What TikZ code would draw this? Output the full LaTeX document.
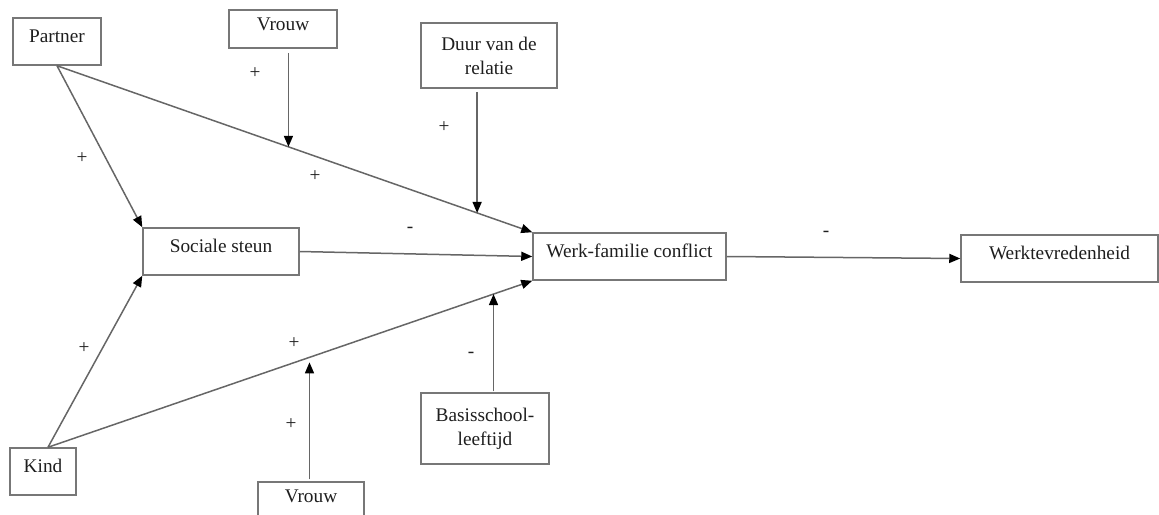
\documentclass[tikz,border=0pt]{standalone}
\usepackage{fontspec}
\setmainfont{Liberation Serif}
\usetikzlibrary{arrows.meta}

\definecolor{linegray}{HTML}{666666}
\definecolor{boxgray}{HTML}{777777}
\definecolor{textgray}{HTML}{1E1E1E}

\tikzset{
  var/.style={draw=boxgray, line width=1.5pt, text=textgray, align=center, inner sep=0pt},
  single/.style={var, text height=14pt, text depth=12pt},
  pad/.style={draw=linegray, line width=1.5pt, -{Triangle[length=11pt,width=9pt,black]}},
  sign/.style={text=textgray, inner sep=0pt}
}

\begin{document}
\begin{tikzpicture}[x=1pt, y=-1pt, font=\fontsize{19.3}{24}\selectfont]
        \useasboundingbox (0,0) rectangle (1159,514);

        % variables
        \node[single, minimum width=88pt, minimum height=47pt] (partner) at (57,41.5) {Partner};
        \node[single, minimum width=108pt, minimum height=38pt] (vrouwtop) at (283,29) {Vrouw};
        \node[var, minimum width=136pt, minimum height=65pt] (duur) at (489,55.5) {Duur van de\\relatie};
        \node[single, minimum width=156pt, minimum height=47pt] (steun) at (221,251.5) {Sociale steun};
        \node[single, minimum width=193pt, minimum height=47pt] (wfc) at (629.5,256.5) {Werk-familie conflict};
        \node[single, minimum width=197pt, minimum height=47pt] (tevreden) at (1059.5,258.5) {Werktevredenheid};
        \node[single, minimum width=66pt, minimum height=47pt] (kind) at (43,471.5) {Kind};
        \node[var, minimum width=128pt, minimum height=71pt] (basis) at (485,428.5) {Basisschool-\\leeftijd};
        \node[single, minimum width=106pt, minimum height=38pt] (vrouwbot) at (311,501) {Vrouw};

        % main paths
        \draw[pad] (partner.south) -- (steun.north west);
        \draw[pad] (partner.south) -- (wfc.north west)
            coordinate[pos=0.487] (m1) coordinate[pos=0.884] (m2);
        \draw[pad] (steun.east) -- (wfc.west);
        \draw[pad] ([xshift=5pt]kind.north) -- (steun.south west);
        \draw[pad] ([xshift=5pt]kind.north) -- (wfc.south west)
            coordinate[pos=0.54] (m3) coordinate[pos=0.92] (m4);
        \draw[pad] (wfc.east) -- (tevreden.west);

        % moderators
        \draw[pad] ([yshift=-4pt]m1 |- vrouwtop.south) -- (m1);
        \draw[pad] ([yshift=-3pt]m2 |- duur.south) -- (m2);
        \draw[pad, shorten >=5pt] ([yshift=2pt]m3 |- vrouwbot.north) -- (m3);
        \draw[pad] ([yshift=1pt]m4 |- basis.north) -- (m4);

        % signs
        \node[sign] (s1) at (255,73) {+};
        \node[sign] (s2) at (82,158) {+};
        \node[sign] (s3) at (315,176) {+};
        \node[sign] (s4) at (444,127) {+};
        \node[sign] (s5) at (410,230) {-};
        \node[sign] (s6) at (826,234) {-};
        \node[sign] (s7) at (84,348) {+};
        \node[sign] (s8) at (294,343) {+};
        \node[sign] (s9) at (291,424) {+};
        \node[sign] (s10) at (471,355) {-};
\end{tikzpicture}
\end{document}
